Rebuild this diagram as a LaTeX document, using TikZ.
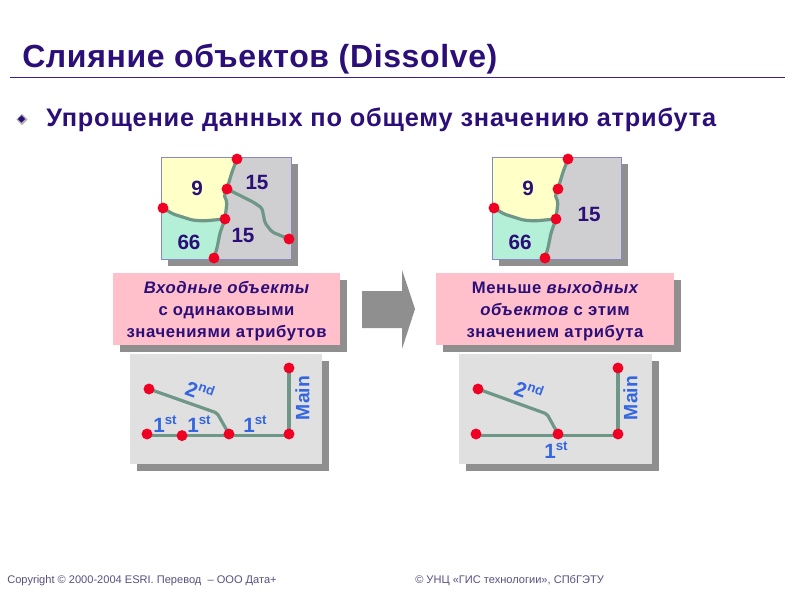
\documentclass[tikz,border=0pt]{standalone}
\usepackage{fontspec}
\setmainfont{Liberation Sans}
\usetikzlibrary{shapes.geometric}
\definecolor{ink}{HTML}{2C0E78}
\definecolor{rulec}{HTML}{3C1E8C}
\definecolor{bluelab}{HTML}{3466E0}
\definecolor{grayfill}{HTML}{CFCFD1}
\definecolor{yel}{HTML}{FFFFC8}
\definecolor{grn}{HTML}{B4F0D7}
\definecolor{pinkb}{HTML}{FFC0CB}
\definecolor{panel}{HTML}{E0E0E0}
\definecolor{shad}{HTML}{8F8F8F}
\definecolor{road}{HTML}{6F9788}
\definecolor{dotred}{HTML}{F00022}
\definecolor{edge}{HTML}{8888C4}
\definecolor{foot}{HTML}{5A5080}
\newcommand{\fs}[1]{\fontsize{#1}{#1}\selectfont}
\newcommand{\ordn}[2]{#1\raisebox{0.42em}{\fs{10}#2}}
\tikzset{
  x=0.75pt,y=-0.75pt,
  dot/.style={circle,fill=dotred,inner sep=0pt,minimum size=8.2pt},
  border/.style={line width=2.4pt,color=road,line join=round,line cap=round,rounded corners=1.5pt},
  num/.style={font=\fs{15.5}\bfseries,text=ink,inner sep=0pt},
  lab/.style={font=\fs{15.5}\bfseries,text=bluelab,inner sep=0pt},
  mainlab/.style={font=\fs{14.5}\bfseries,text=bluelab,inner sep=0pt,rotate=90},
  caption/.style={font=\fs{12.5}\bfseries\addfontfeature{LetterSpace=3.6},text=ink,align=center,inner sep=0pt},
  foottext/.style={font=\fs{8.3},text=foot,anchor=west,inner sep=0pt},
}
\begin{document}
\begin{tikzpicture}
\useasboundingbox (0,0) rectangle (800,600);
\fill[white] (0,0) rectangle (800,600);
% title
\node[anchor=west,font=\fs{24}\bfseries\addfontfeature{LetterSpace=2},text=ink,inner sep=0pt] (title) at (22,59) {Слияние объектов (Dissolve)};
\draw[rulec,line width=0.9pt] (10,77.5) -- (785,77.5);
% bullet
\node[diamond,fill=shad!70,inner sep=0pt,minimum size=8.5pt] (bs) at (22,119.5) {};
\node[diamond,fill=ink,inner sep=0pt,minimum size=5.5pt] (bl) at (21.5,119) {};
\node[anchor=west,font=\fs{19}\bfseries\addfontfeature{LetterSpace=3.2},text=ink,inner sep=0pt] (sub) at (46,120) {Упрощение данных по общему значению атрибута};
% ===== left map
\fill[shad] (167.5,163.5) rectangle (297.5,265.5);
\fill[grayfill] (161,157) rectangle (291,259);
\fill[yel] (161,157) -- (237,157) -- (227,189) -- (224,195) -- (227,202) -- (225,219) -- (203,221) -- (192,220) -- (173,214) -- (161,207) -- cycle;
\fill[grn] (161,207) -- (173,214) -- (192,220) -- (203,221) -- (225,219) -- (220,233) -- (217,248) -- (214,259) -- (161,259) -- cycle;
\draw[edge,line width=0.6pt] (161,157) rectangle (291,259);
\coordinate (At) at (237,159);
\coordinate (Am) at (227,189);
\coordinate (Al) at (163,208);
\coordinate (Ac) at (225,219);
\coordinate (Ab) at (214,258);
\coordinate (Ar) at (289,239);
\draw[border] (At) -- (232,172) -- (229,182) -- (Am);
\draw[border] (Am) -- (224,195) -- (227,202) -- (Ac);
\draw[border] (Al) -- (173,214) -- (192,220) -- (203,221) -- (Ac);
\draw[border] (Ac) -- (220,233) -- (217,248) -- (Ab);
\draw[border] (Am) -- (253,202) -- (262,208) -- (265,223) -- (272,232) -- (Ar);
\node[dot] (At1) at (At) {};
\node[dot] (Am1) at (Am) {};
\node[dot] (Al1) at (Al) {};
\node[dot] (Ac1) at (Ac) {};
\node[dot] (Ab1) at (Ab) {};
\node[dot] (Ar1) at (Ar) {};
\node[num] (n1) at (197,188) {9};
\node[num] (n2) at (257,182) {15};
\node[num] (n3) at (189,242) {66};
\node[num] (n4) at (243,235) {15};
% ===== right map
\fill[shad] (498.5,163.5) rectangle (628,265.5);
\fill[grayfill] (492,157) rectangle (621.5,259);
\fill[yel] (492,157) -- (568,157) -- (558,189) -- (555,195) -- (558,202) -- (556,219) -- (534,221) -- (523,220) -- (504,214) -- (492,207) -- cycle;
\fill[grn] (492,207) -- (504,214) -- (523,220) -- (534,221) -- (556,219) -- (551,233) -- (548,248) -- (545,259) -- (492,259) -- cycle;
\draw[edge,line width=0.6pt] (492,157) rectangle (621.5,259);
\coordinate (Bt) at (568,159);
\coordinate (Bm) at (558,189);
\coordinate (Bl) at (494,208);
\coordinate (Bc) at (556,219);
\coordinate (Bb) at (545,258);
\draw[border] (Bt) -- (563,172) -- (560,182) -- (Bm);
\draw[border] (Bm) -- (555,195) -- (558,202) -- (Bc);
\draw[border] (Bl) -- (504,214) -- (523,220) -- (534,221) -- (Bc);
\draw[border] (Bc) -- (551,233) -- (548,248) -- (Bb);
\node[dot] (Bt1) at (Bt) {};
\node[dot] (Bm1) at (Bm) {};
\node[dot] (Bl1) at (Bl) {};
\node[dot] (Bc1) at (Bc) {};
\node[dot] (Bb1) at (Bb) {};
\node[num] (m1) at (528,188) {9};
\node[num] (m2) at (520,242) {66};
\node[num] (m3) at (589,214) {15};
% ===== captions
\fill[shad] (119.5,279.5) rectangle (346.5,351.5);
\fill[pinkb] (113,273) rectangle (340,345);
\node[caption] (c1) at (226.5,311) {\itshape Входные объекты\\[4pt]с одинаковыми\\[4pt]значениями атрибутов};
\fill[shad] (442.5,279.5) rectangle (680.5,351.5);
\fill[pinkb] (436,273) rectangle (674,345);
\node[caption] (c2) at (555,311) {Меньше \itshape выходных\\[4pt]\itshape объектов \upshape с этим\\[4pt]значением атрибута};
% arrow
\fill[shad] (362,291) -- (402,291) -- (402,270) -- (415,309) -- (402,349) -- (402,328) -- (362,328) -- cycle;
% ===== left panel
\fill[shad] (136.5,360.5) rectangle (328.5,470.5);
\fill[panel] (130,354) rectangle (322,464);
\coordinate (Pa) at (149,389);
\coordinate (Pb) at (147,434);
\coordinate (Pc) at (182,435.6);
\coordinate (Pd) at (229,434);
\coordinate (Pe) at (289,434);
\coordinate (Pf) at (289,368);
\draw[border] (Pb |- Pc) -- (Pc) -- (Pd |- Pc) -- (Pe |- Pc);
\draw[border] (Pa) -- (217,413) -- (Pd);
\draw[border] (Pe) -- (Pf);
\node[dot] (Pa1) at (Pa) {};
\node[dot] (Pb1) at (Pb) {};
\node[dot] (Pc1) at (Pc) {};
\node[dot] (Pd1) at (Pd) {};
\node[dot] (Pe1) at (Pe) {};
\node[dot] (Pf1) at (Pf) {};
\node[lab,rotate=-20] (l1) at (200,391) {\ordn{2}{nd}};
\node[lab] (l2) at (165,424) {\ordn{1}{st}};
\node[lab] (l3) at (199,424) {\ordn{1}{st}};
\node[lab] (l4) at (255,424) {\ordn{1}{st}};
\node[mainlab] (l5) at (302.5,398) {Main};
% ===== right panel
\fill[shad] (465.5,360.5) rectangle (658.5,470.5);
\fill[panel] (459,354) rectangle (652,464);
\coordinate (Qa) at (478,389);
\coordinate (Qb) at (476,434);
\coordinate (Qc) at (550,435.6);
\coordinate (Qd) at (558,434);
\coordinate (Qe) at (618,434);
\coordinate (Qf) at (618,368);
\draw[border] (Qb |- Qc) -- (Qc) -- (Qe |- Qc);
\draw[border] (Qa) -- (547,414) -- (Qd);
\draw[border] (Qe) -- (Qf);
\node[dot] (Qa1) at (Qa) {};
\node[dot] (Qb1) at (Qb) {};
\node[dot] (Qd1) at (Qd) {};
\node[dot] (Qe1) at (Qe) {};
\node[dot] (Qf1) at (Qf) {};
\node[lab,rotate=-20] (k1) at (529,391) {\ordn{2}{nd}};
\node[lab] (k2) at (556,450) {\ordn{1}{st}};
\node[mainlab] (k3) at (630.5,398) {Main};
% footer
\node[foottext] (f1) at (7,581) {Copyright © 2000-2004 ESRI. Перевод\ \ – ООО Дата+};
\node[foottext] (f2) at (415,581) {© УНЦ «ГИС технологии», СПбГЭТУ};
\end{tikzpicture}
\end{document}
